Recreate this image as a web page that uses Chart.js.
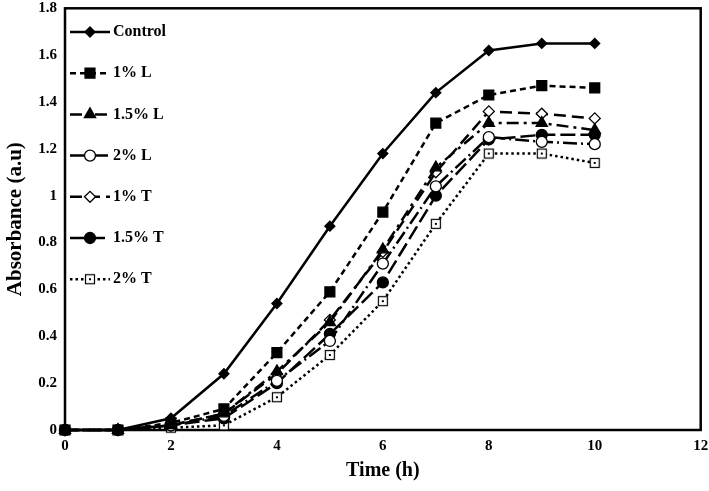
<!DOCTYPE html>
<html>
<head>
<meta charset="utf-8">
<script src="https://cdn.jsdelivr.net/npm/chart.js@4.4.0/dist/chart.umd.min.js"></script>
<style>
  html, body { margin: 0; padding: 0; background: #fff; }
  #wrap { width: 709px; height: 491px; }
</style>
</head>
<body>
<div id="wrap"><canvas id="absChart" width="709" height="491"></canvas></div>
<script>
const timeHours = [0, 1, 2, 3, 4, 5, 6, 7, 8, 9, 10];
const seriesNames = ['Control', '1% L', '1.5% L', '2% L', '1% T', '1.5% T', '2% T'];
const control = [0, 0, 0.05, 0.24, 0.54, 0.87, 1.18, 1.44, 1.62, 1.65, 1.65];
const oneL = [0, 0, 0.03, 0.09, 0.33, 0.59, 0.93, 1.31, 1.43, 1.47, 1.46];
const onePointFiveL = [0, 0, 0.02, 0.07, 0.25, 0.46, 0.77, 1.12, 1.31, 1.31, 1.28];
const twoL = [0, 0, 0.02, 0.06, 0.21, 0.38, 0.71, 1.04, 1.25, 1.23, 1.22];
const oneT = [0, 0, 0.02, 0.07, 0.24, 0.47, 0.76, 1.10, 1.36, 1.35, 1.33];
const onePointFiveT = [0, 0, 0.02, 0.05, 0.20, 0.41, 0.63, 1.00, 1.24, 1.26, 1.26];
const twoT = [0, 0, 0.01, 0.02, 0.14, 0.32, 0.55, 0.88, 1.18, 1.18, 1.14];
const xTickLabels = ['0', '2', '4', '6', '8', '10', '12'];
const yTickLabels = ['0', '0.2', '0.4', '0.6', '0.8', '1', '1.2', '1.4', '1.6', '1.8'];

const serif = '"Liberation Serif", "Times New Roman", serif';

// open square with a dot in the middle (2% T marker)
function makeDotSquare() {
  const c = document.createElement('canvas');
  c.width = 12; c.height = 12;
  const g = c.getContext('2d');
  g.fillStyle = '#fff';
  g.fillRect(1.5, 1.5, 9, 9);
  g.strokeStyle = '#000';
  g.lineWidth = 1.2;
  g.strokeRect(1.5, 1.5, 9, 9);
  g.fillStyle = '#000';
  g.fillRect(5, 5, 2, 2);
  return c;
}

function pts(values) {
  return timeHours.map((t, i) => ({ x: t, y: values[i] }));
}

document.addEventListener('DOMContentLoaded', function () {
  const dotSquare = makeDotSquare();

  const series = [control, oneL, onePointFiveL, twoL, oneT, onePointFiveT, twoT];
  const styles = [
    { dash: [], point: 'rectRot', r: 5, fill: '#000' },
    { dash: [6, 4], point: 'rect', r: 7, fill: '#000' },
    { dash: [12, 5, 3, 5], point: 'triangle', r: 6.5, fill: '#000' },
    { dash: [14, 4, 2, 4], point: 'circle', r: 5.5, fill: '#fff' },
    { dash: [12, 6], point: 'rectRot', r: 5.5, fill: '#fff' },
    { dash: [15, 5], point: 'circle', r: 5.5, fill: '#000' },
    { dash: [2.5, 3], point: dotSquare, r: 6, fill: '#fff' }
  ];

  const datasets = series.map((vals, i) => ({
    label: seriesNames[i],
    data: pts(vals),
    borderColor: '#000',
    borderWidth: 2.5,
    borderDash: styles[i].dash,
    tension: 0,
    fill: false,
    clip: false,
    pointStyle: styles[i].point,
    pointRadius: styles[i].r,
    pointBackgroundColor: styles[i].fill,
    pointBorderColor: '#000',
    pointBorderWidth: 1.3
  }));

  // frame around the plot area
  const plotFrame = {
    id: 'plotFrame',
    beforeDatasetsDraw(chart) {
      const { ctx, chartArea: a } = chart;
      ctx.save();
      ctx.strokeStyle = '#000';
      ctx.lineWidth = 2.5;
      ctx.strokeRect(a.left, a.top, a.right - a.left, a.bottom - a.top);
      ctx.restore();
    }
  };

  // legend drawn inside the plot, top-left, one row per series
  const boxLegend = {
    id: 'boxLegend',
    afterDatasetsDraw(chart) {
      const c = chart.ctx;
      chart.data.datasets.forEach((ds, i) => {
        const y = 32 + i * 41.2;
        c.save();
        c.strokeStyle = '#000';
        c.lineWidth = ds.borderWidth;
        c.setLineDash(ds.borderDash);
        c.beginPath();
        c.moveTo(70, y);
        c.lineTo(110, y);
        c.stroke();
        c.setLineDash([]);
        c.fillStyle = ds.pointBackgroundColor;
        c.strokeStyle = '#000';
        c.lineWidth = ds.pointBorderWidth;
        Chart.helpers.drawPoint(c, { pointStyle: ds.pointStyle, radius: ds.pointRadius, rotation: 0, borderWidth: ds.pointBorderWidth }, 90, y);
        c.fillStyle = '#000';
        c.font = 'bold 16px ' + serif;
        c.textBaseline = 'middle';
        c.textAlign = 'left';
        c.fillText(ds.label, 113, y);
        c.restore();
      });
    }
  };

  const ctx = document.getElementById('absChart').getContext('2d');
  new Chart(ctx, {
    type: 'line',
    data: { datasets: datasets },
    plugins: [plotFrame, boxLegend],
    options: {
      responsive: false,
      animation: false,
      devicePixelRatio: 1,
      layout: { padding: { top: 5, right: 4, left: 0, bottom: 0 } },
      plugins: {
        legend: { display: false },
        tooltip: { enabled: false }
      },
      scales: {
        x: {
          type: 'linear',
          min: 0,
          max: 12,
          ticks: {
            stepSize: 2,
            color: '#000',
            padding: 7,
            font: { family: serif, size: 15, weight: 'bold' },
            callback: (v, i) => xTickLabels[i]
          },
          grid: { display: false, drawTicks: false },
          border: { display: false },
          title: {
            display: true,
            text: 'Time (h)',
            color: '#000',
            font: { family: serif, size: 20, weight: 'bold' },
            padding: { top: 0, bottom: 8 }
          },
          afterFit: s => { s.height = 61; s.paddingLeft = 0; s.paddingRight = 0; }
        },
        y: {
          min: 0,
          max: 1.8,
          ticks: {
            stepSize: 0.2,
            color: '#000',
            padding: 8,
            font: { family: serif, size: 15, weight: 'bold' },
            callback: (v, i) => yTickLabels[i]
          },
          grid: { display: false, drawTicks: false },
          border: { display: false },
          title: {
            display: true,
            text: 'Absorbance (a.u)',
            color: '#000',
            font: { family: serif, size: 21, weight: 'bold' },
            padding: { top: 3, bottom: 0 }
          },
          afterFit: s => { s.width = 65; s.paddingTop = 0; s.paddingBottom = 0; }
        }
      }
    }
  });
});
</script>
</body>
</html>
